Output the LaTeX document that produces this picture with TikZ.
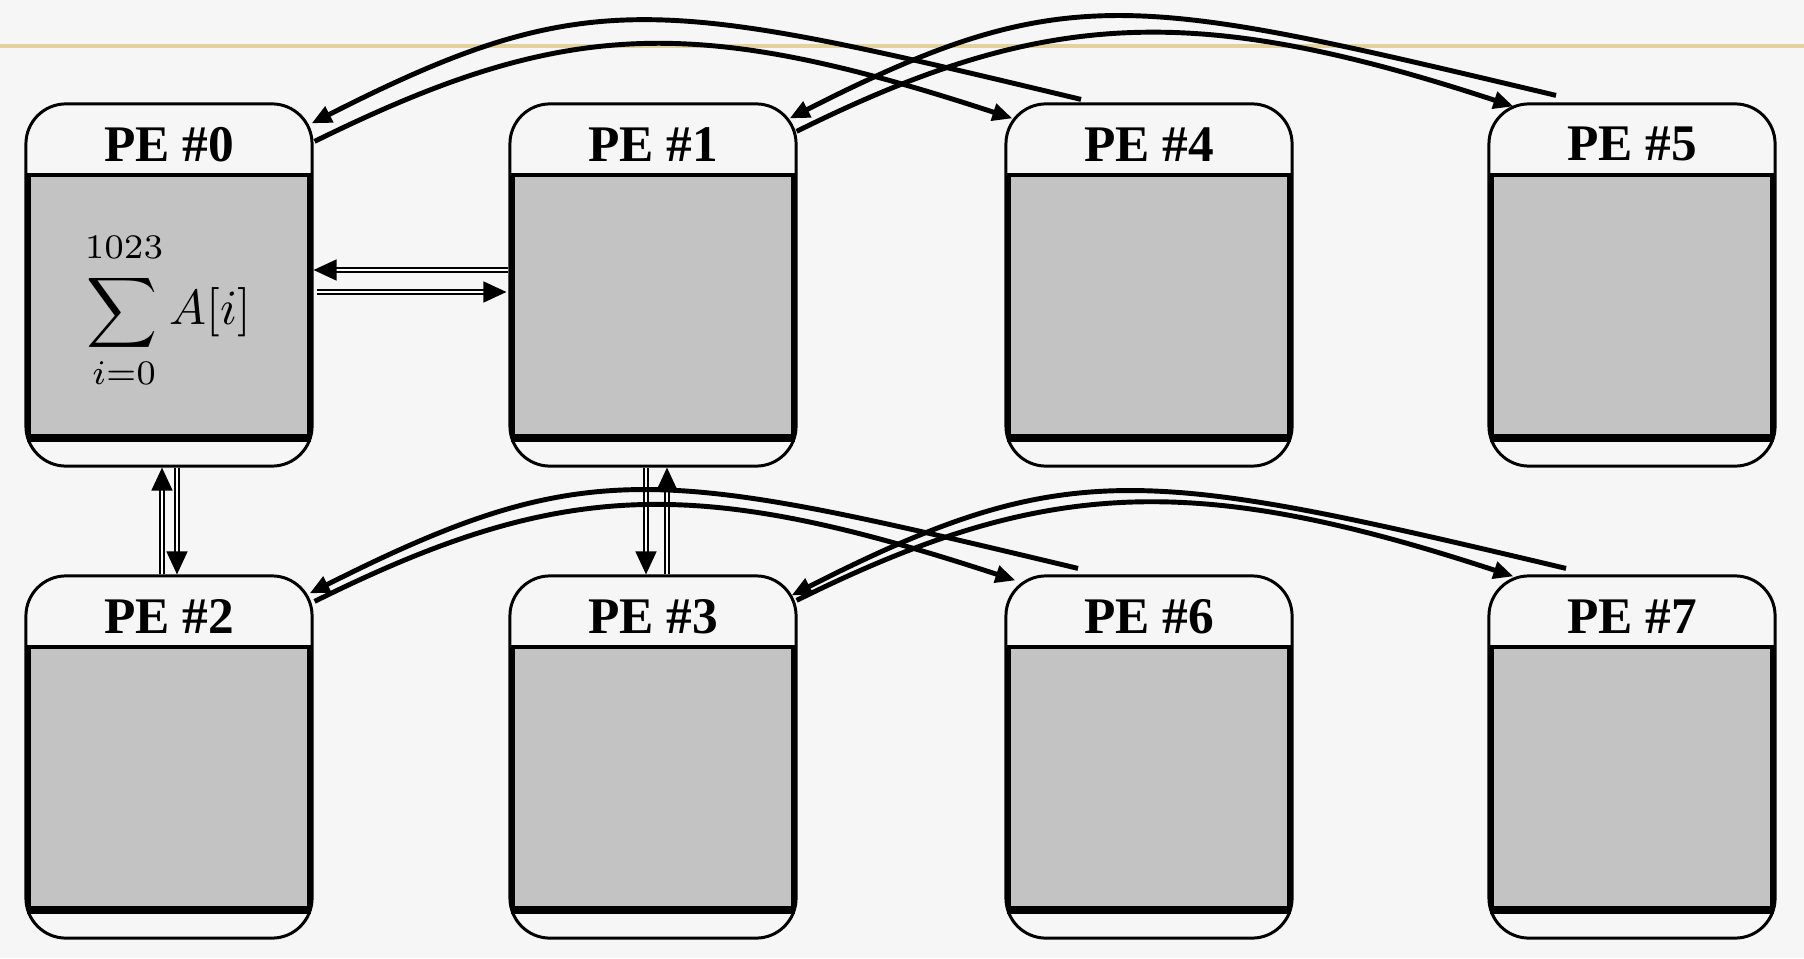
\documentclass[tikz,border=0pt]{standalone}
\usepackage{fontspec}
\setmainfont{Liberation Serif}
\usetikzlibrary{arrows.meta,calc}
\definecolor{bgc}{RGB}{246,246,246}
\definecolor{goldline}{RGB}{228,210,158}
\definecolor{fillg}{RGB}{195,195,195}
\tikzset{
  pebox/.style={draw, line width=0.85pt, rounded corners=0.4cm, minimum width=2.86cm, minimum height=3.62cm, inner sep=0pt},
  pein/.style={draw, line width=1.2pt, fill=fillg, minimum width=2.80cm, minimum height=2.61cm, inner sep=0pt},
  petitle/.style={font=\bfseries\fontsize{14.6}{17}\selectfont, inner sep=0pt},
  mathpart/.style={inner sep=0pt, scale=1.4},
  curv/.style={line width=1.4pt, -{Triangle[length=0.2cm,width=0.17cm]}},
  dbl/.style={draw, line width=0.45pt, double=white, double distance=0.75pt, -{Triangle[length=0.23cm,width=0.21cm]}},
}
\begin{document}
\begin{tikzpicture}[x=0.01cm, y=-0.01cm]
\useasboundingbox (0,0) rectangle (1804,958);
\fill[bgc] (0,0) rectangle (1804,958);
\draw[goldline, line width=1pt] (0,46) -- (1804,46);

\foreach \n/\x/\y in {0/169/285, 1/653/285, 4/1149/285, 5/1632/285, 2/169/757, 3/653/757, 6/1149/757, 7/1632/757}{
  \node[pebox] (pe\n) at (\x,\y) {};
  \node[pein] (pe\n g) at ($(pe\n.center)+(0,20.5)$) {};
  \draw[line width=2.4pt] (pe\n g.south west) -- (pe\n g.south east);
  \node[petitle] (pe\n t) at ($(pe\n.north)+(0,42)$) {PE \#\n};
}

% formula in PE #0
\node[mathpart] (sig) at (122,313) {$\displaystyle\sum$};
\node[mathpart, anchor=south] (supl) at ($(sig.north)+(2,-13)$) {$\scriptstyle 1023$};
\node[mathpart, anchor=north] (subl) at ($(sig.south)+(2,7)$) {$\scriptstyle i=0$};
\node[mathpart, anchor=west] (ai) at ($(sig.east)+(10,-1)$) {$A[i]$};

% horizontal double arrows
\draw[dbl] ($(pe1.west)+(0,-15)$) -- ($(pe0.east)+(0,-15)$);
\draw[dbl] ($(pe0.east)+(3,7)$) -- ($(pe1.west)+(-2,7)$);
% vertical double arrows
\draw[dbl] ($(pe2.north)+(-7,0)$) -- ($(pe0.south)+(-7,0)$);
\draw[dbl] ($(pe0.south)+(8,0)$) -- ($(pe2.north)+(8,0)$);
\draw[dbl] ($(pe1.south)+(-7,0)$) -- ($(pe3.north)+(-7,0)$);
\draw[dbl] ($(pe3.north)+(14,0)$) -- ($(pe1.south)+(14,0)$);

% curved arrows, top row
\draw[curv] ($(pe4.north)+(-68,-3)$) .. controls (661,-1) and (590,-18) .. ($(pe0.north east)+(-2,21)$);
\draw[curv] ($(pe0.north east)+(1,39)$) .. controls (565,18) and (694,14) .. ($(pe4.north west)+(8,16)$);
\draw[curv] ($(pe5.north)+(-76,-7)$) .. controls (1136,-4) and (1068,-23) .. ($(pe1.north east)+(-8,16)$);
\draw[curv] ($(pe1.north east)+(-1,29)$) .. controls (1045,8) and (1195,2) .. ($(pe5.north west)+(26,4)$);
% curved arrows, bottom row
\draw[curv] ($(pe6.north)+(-71,-6)$) .. controls (661,469) and (590,452) .. ($(pe2.north east)+(-4,19)$);
\draw[curv] ($(pe2.north east)+(1,27)$) .. controls (563,478) and (697,476) .. ($(pe6.north west)+(11,6)$);
\draw[curv] ($(pe7.north)+(-66,-6)$) .. controls (1146,469) and (1070,454) .. ($(pe3.north east)+(-6,21)$);
\draw[curv] ($(pe3.north east)+(-1,26)$) .. controls (1045,477) and (1195,472) .. ($(pe7.north west)+(26,2)$);
\end{tikzpicture}
\end{document}
